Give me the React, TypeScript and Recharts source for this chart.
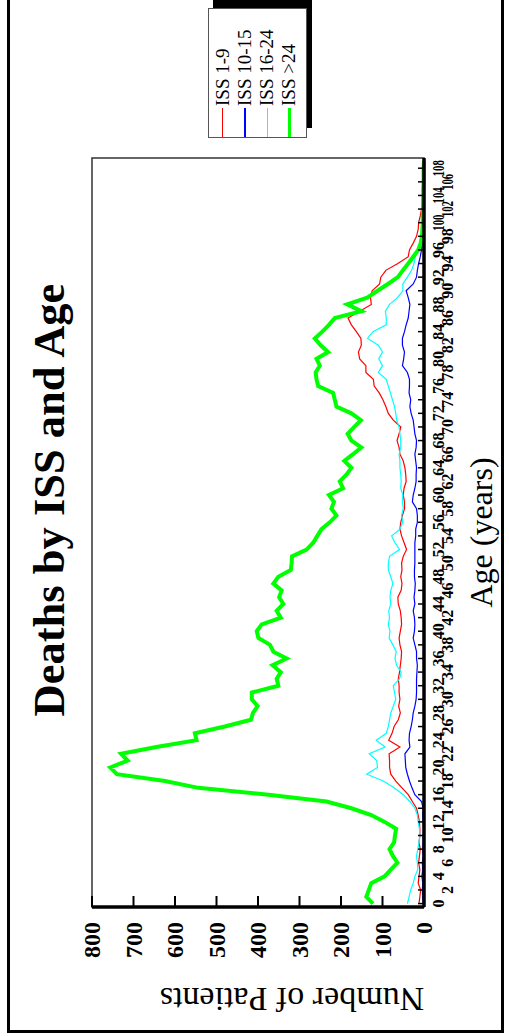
import React from "react";
import { LineChart, Line, XAxis, YAxis, Legend, ReferenceArea } from "recharts";

const FONT = "'Liberation Serif', 'Times New Roman', serif";

// ages 0..109 (categories)
const ages = [
  0, 1, 2, 3, 4, 5, 6, 7, 8, 9, 10, 11, 12, 13, 14, 15, 16, 17, 18, 19,
  20, 21, 22, 23, 24, 25, 26, 27, 28, 29, 30, 31, 32, 33, 34, 35, 36, 37, 38, 39,
  40, 41, 42, 43, 44, 45, 46, 47, 48, 49, 50, 51, 52, 53, 54, 55, 56, 57, 58, 59,
  60, 61, 62, 63, 64, 65, 66, 67, 68, 69, 70, 71, 72, 73, 74, 75, 76, 77, 78, 79,
  80, 81, 82, 83, 84, 85, 86, 87, 88, 89, 90, 91, 92, 93, 94, 95, 96, 97, 98, 99,
  100, 101, 102, 103, 104, 105, 106, 107, 108, 109,
];

const ageTicks = [
  0, 2, 4, 6, 8, 10, 12, 14, 16, 18, 20, 22, 24, 26, 28, 30, 32, 34, 36, 38,
  40, 42, 44, 46, 48, 50, 52, 54, 56, 58, 60, 62, 64, 66, 68, 70, 72, 74, 76, 78,
  80, 82, 84, 86, 88, 90, 92, 94, 96, 98, 100, 102, 104, 106, 108,
];

const patientTicks = [0, 100, 200, 300, 400, 500, 600, 700, 800];

const iss1to9 = [
  12, 10, 8, 14, 12, 10, 13, 11, 9, 12,
  10, 10, 11, 14, 18, 28, 38, 53, 68, 80,
  83, 83, 84, 58, 85, 77, 72, 62, 57, 61,
  58, 60, 60, 62, 59, 57, 55, 54, 58, 60,
  57, 54, 55, 57, 62, 63, 55, 53, 56, 53,
  54, 50, 42, 48, 54, 58, 56, 52, 47, 47,
  50, 48, 43, 44, 46, 50, 58, 60, 65, 60,
  56, 74, 86, 92, 99, 108, 120, 122, 140, 140,
  155, 158, 151, 152, 163, 175, 183, 155, 127, 129,
  125, 107, 104, 92, 63, 38, 35, 26, 18, 14,
  13, 9, 6, 5, 3, 2, 2, 1, 1, 0,
];

const iss10to15 = [
  2, 3, 4, 3, 5, 3, 4, 2, 3, 2,
  2, 1, 2, 3, 2, 6, 22, 29, 35, 40,
  44, 45, 46, 34, 36, 35, 31, 28, 26, 22,
  19, 18, 18, 18, 17, 16, 18, 18, 22, 26,
  23, 22, 23, 26, 22, 24, 22, 21, 23, 23,
  22, 22, 22, 22, 20, 20, 16, 16, 18, 28,
  26, 22, 19, 19, 18, 20, 22, 19, 18, 22,
  24, 26, 31, 34, 32, 36, 35, 35, 40, 52,
  49, 47, 52, 52, 47, 43, 38, 36, 34, 38,
  43, 26, 18, 16, 13, 9, 6, 4, 3, 3,
  2, 2, 1, 1, 1, 1, 0, 0, 0, 0,
];

const iss16to24 = [
  40, 36, 32, 26, 22, 15, 16, 18, 15, 12,
  10, 11, 14, 16, 22, 34, 50, 72, 98, 138,
  112, 114, 132, 94, 115, 91, 86, 83, 80, 74,
  68, 71, 74, 59, 55, 66, 70, 67, 75, 84,
  82, 86, 83, 85, 80, 82, 80, 75, 80, 86,
  86, 83, 59, 70, 78, 58, 51, 54, 50, 52,
  51, 56, 55, 56, 58, 58, 60, 56, 56, 58,
  60, 66, 68, 71, 76, 81, 86, 91, 110, 100,
  109, 100, 110, 136, 123, 91, 91, 93, 83, 64,
  51, 51, 40, 30, 24, 21, 14, 10, 6, 4,
  3, 2, 2, 1, 1, 1, 0, 0, 0, 0,
];

const issOver24 = [
  123, 139, 133, 127, 95, 80, 64, 75, 83, 72,
  70, 67, 95, 127, 175, 235, 375, 544, 624, 740,
  756, 714, 730, 645, 548, 552, 480, 417, 412, 401,
  415, 415, 351, 355, 345, 365, 331, 363, 371, 399,
  403, 391, 345, 355, 339, 349, 343, 363, 351, 321,
  319, 318, 283, 267, 257, 247, 227, 211, 223, 217,
  229, 195, 203, 187, 175, 192, 171, 151, 175, 184,
  168, 152, 175, 211, 215, 219, 255, 259, 261, 251,
  259, 231, 249, 263, 245, 229, 215, 151, 185, 137,
  112, 87, 63, 51, 38, 26, 14, 8, 5, 4,
  3, 3, 2, 2, 2, 2, 1, 1, 1, 0,
];

const seriesNames = ["ISS 1-9", "ISS 10-15", "ISS 16-24", "ISS >24"];
const seriesKeys = ["s1", "s2", "s3", "s4"];
const seriesColors = ["#ff0000", "#0000ff", "#00ffff", "#00ff00"];
const seriesWidths = [1.2, 1.2, 1.2, 4];

const data = ages.map((age, i) => ({
  age,
  s1: iss1to9[i],
  s2: iss10to15[i],
  s3: iss16to24[i],
  s4: issOver24[i],
}));

// chart is drawn landscape, then the whole thing is turned -90deg
const W = 1036;
const H = 509;

const AgeTick = (props: any) => {
  const { x, y, payload } = props;
  const v = payload.value as number;
  const label = String(v);
  const dy = v % 4 === 0 ? 20 : 29;
  const squeeze = label.length > 2 ? { textLength: 16, lengthAdjust: "spacingAndGlyphs" } : {};
  return (
    <g>
      <line x1={x} x2={x} y1={y - 6} y2={y + 1} stroke="#000" strokeWidth={1.5} />
      <text
        x={x}
        y={y + dy}
        textAnchor="middle"
        style={{ fontFamily: FONT }}
        fontWeight="bold"
        fontSize={16}
        fill="#000"
        {...squeeze}
      >
        {label}
      </text>
    </g>
  );
};

const PatientTick = (props: any) => {
  const { x, y, payload } = props;
  return (
    <g>
      <line x1={x + 15} x2={x + 26} y1={y} y2={y} stroke="#000" strokeWidth={2} />
      <text
        x={x}
        y={y}
        dy="0.35em"
        textAnchor="end"
        style={{ fontFamily: FONT }}
        fontWeight="bold"
        fontSize={24}
        fill="#000"
      >
        {payload.value}
      </text>
    </g>
  );
};

const renderLegend = (props: any) => {
  const payload = props.payload || [];
  return (
    <div
      style={{
        width: 130,
        height: 99,
        boxSizing: "border-box",
        border: "1px solid #555",
        background: "#fff",
        boxShadow: "10px 5px 0 #000",
        paddingTop: 2.7,
        fontFamily: FONT,
      }}
    >
      {payload.map((entry: any, i: number) => (
        <div key={entry.value} style={{ display: "flex", alignItems: "center", height: 22.2 }}>
          <div
            style={{
              width: 29,
              height: seriesWidths[i] > 2 ? 3.5 : 1.2,
              background: entry.color,
              marginRight: 2,
            }}
          />
          <span style={{ fontSize: 19, lineHeight: "22px", color: "#000", whiteSpace: "nowrap" }}>
            {entry.value}
          </span>
        </div>
      ))}
    </div>
  );
};

export default function App() {
  return (
    <div
      style={{
        position: "absolute",
        left: 0,
        top: 0,
        width: 509,
        height: 1036,
        overflow: "hidden",
        background: "#fff",
      }}
    >
      <div
        style={{
          position: "absolute",
          left: 0,
          top: 0,
          width: W,
          height: H,
          transformOrigin: "0 0",
          transform: `translate(0px, ${W}px) rotate(-90deg)`,
        }}
      >
        <div
          style={{
            position: "absolute",
            left: 3,
            top: 7,
            width: 1040,
            height: 497,
            boxSizing: "border-box",
            border: "3.5px solid #000",
          }}
        />
        <div style={{ position: "absolute", left: 0, top: 0 }}>
          <LineChart
            width={W}
            height={H}
            data={data}
            margin={{ top: 92, right: 158, bottom: 55, left: 0 }}
          >
            <XAxis
              dataKey="age"
              type="number"
              domain={[-0.5, 109.5]}
              ticks={ageTicks}
              interval={0}
              height={30}
              tickSize={0}
              tickMargin={0}
              tickLine={false}
              tick={<AgeTick />}
              axisLine={{ stroke: "#000", strokeWidth: 3.5 }}
              label={{
                content: (p: any) => {
                  const vb = p.viewBox || { x: 129, y: 424, width: 749 };
                  return (
                    <text
                      x={vb.x + vb.width / 2}
                      y={vb.y + 68}
                      textAnchor="middle"
                      style={{ fontFamily: FONT }}
                      fontSize={32}
                      fill="#000"
                    >
                      Age (years)
                    </text>
                  );
                },
              }}
            />
            <YAxis
              type="number"
              domain={[0, 800]}
              ticks={patientTicks}
              interval={0}
              width={129}
              tickSize={0}
              tickMargin={15}
              tickLine={false}
              tick={<PatientTick />}
              axisLine={{ stroke: "#000", strokeWidth: 3.5 }}
              label={{
                content: (p: any) => {
                  const vb = p.viewBox || { x: 0, y: 92, height: 332 };
                  const cx = vb.x + 48;
                  const cy = vb.y + vb.height / 2 + 34;
                  return (
                    <text
                      x={cx}
                      y={cy}
                      transform={`rotate(-90, ${cx}, ${cy})`}
                      textAnchor="middle"
                      style={{ fontFamily: FONT }}
                      fontSize={34}
                      fill="#000"
                    >
                      Number of Patients
                    </text>
                  );
                },
              }}
            />
            <ReferenceArea
              x1={-0.5}
              x2={109.5}
              y1={0}
              y2={800}
              fill="none"
              stroke="#333"
              strokeWidth={1.5}
            />
            {seriesKeys.map((key, i) => (
              <Line
                key={key}
                type="linear"
                dataKey={key}
                name={seriesNames[i]}
                stroke={seriesColors[i]}
                strokeWidth={seriesWidths[i]}
                dot={false}
                activeDot={false}
                isAnimationActive={false}
              />
            ))}
            <Legend
              layout="vertical"
              align="center"
              verticalAlign="middle"
              content={renderLegend}
              wrapperStyle={{ left: 898, top: 208, width: 130, height: 99 }}
            />
          </LineChart>
        </div>
        <svg
          width={W}
          height={H}
          style={{ position: "absolute", left: 0, top: 0, pointerEvents: "none" }}
        >
          <text
            x={536}
            y={64}
            textAnchor="middle"
            style={{ fontFamily: FONT }}
            fontWeight="bold"
            fontSize={44.5}
            fill="#000"
          >
            Deaths by ISS and Age
          </text>
        </svg>
      </div>
    </div>
  );
}
